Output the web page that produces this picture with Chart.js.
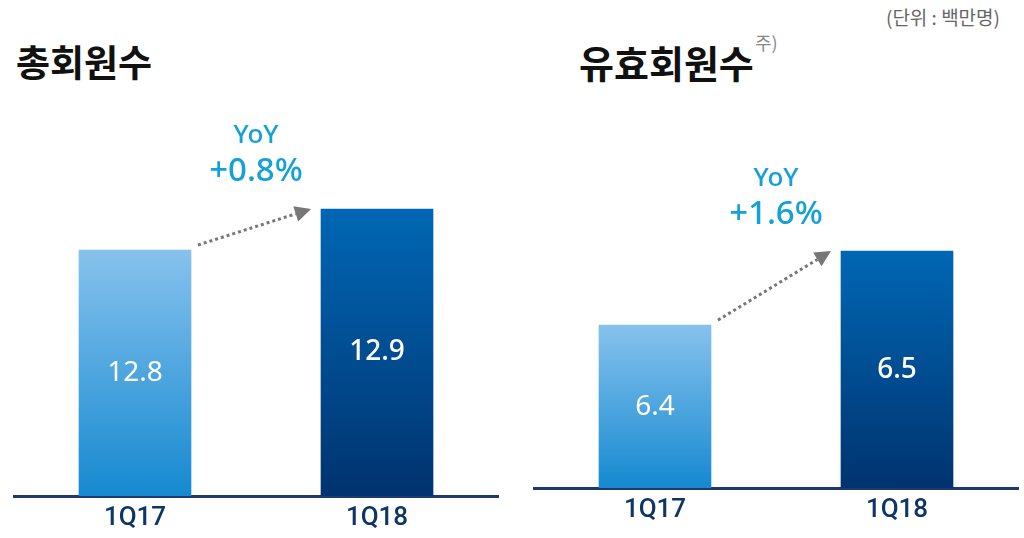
<!DOCTYPE html>
<html>
<head>
<meta charset="utf-8">
<script src="https://cdn.jsdelivr.net/npm/chart.js@4.4.0/dist/chart.umd.min.js"></script>
<style>
  body { margin: 0; background: #fff; width: 1024px; height: 538px; position: relative; overflow: hidden;
         font-family: "Noto Sans CJK KR", "Noto Sans", sans-serif; }
  canvas { position: absolute; top: 0; }
  .title { position: absolute; font-weight: 700; color: #111; line-height: 1; }
  .note { position: absolute; font-size: 19px; color: #666; line-height: 1; }
</style>
</head>
<body>
<div class="note" style="right:24px; top:7px;">(단위 : 백만명)</div>
<div class="title" style="left:16px; top:43px; font-size:37px;">총회원수</div>
<div class="title" style="left:579px; top:43px; font-size:38px;">유효회원수</div>
<div class="note" style="left:755px; top:33px; font-size:18px; color:#888;">주)</div>
<canvas id="totalChart" width="512" height="538" style="left:0"></canvas>
<canvas id="activeChart" width="512" height="538" style="left:512px"></canvas>
<script>
const quarters = ["1Q17", "1Q18"];
const totalMembers = [12.8, 12.9];
const activeMembers = [6.4, 6.5];
const totalYoY = "+0.8%";
const activeYoY = "+1.6%";

const lightStops = ["#86c2ed", "#1689d0"];
const darkStops = ["#0067b4", "#00336f"];

function barGradient(ctx) {
  const chart = ctx.chart;
  const area = chart.chartArea;
  if (!area) return darkStops[0];
  const stops = ctx.dataIndex === 0 ? lightStops : darkStops;
  const top = chart.scales.y.getPixelForValue(ctx.raw);
  const g = chart.ctx.createLinearGradient(0, top, 0, area.bottom);
  g.addColorStop(0, stops[0]);
  g.addColorStop(1, stops[1]);
  return g;
}

const yoyPlugin = {
  id: "yoy",
  afterDatasetsDraw(chart) {
    const ctx = chart.ctx;
    const bars = chart.getDatasetMeta(0).data;
    const bottom = chart.chartArea.bottom;
    ctx.save();
    // value labels inside bars
    ctx.textAlign = "center";
    ctx.textBaseline = "middle";
    chart.data.datasets[0].data.forEach(function (v, i) {
      const b = bars[i];
      ctx.fillStyle = "#ffffff";
      ctx.font = (i === 0 ? "400" : "500") + " 28px 'Noto Sans', sans-serif";
      ctx.fillText(Number(v).toFixed(1), b.x, (b.y + bottom) / 2);
    });
    // dotted arrow
    const a = bars[0], b = bars[1];
    const x1 = a.x + a.width / 2 + 7, y1 = a.y - 5;
    const x2 = b.x - b.width / 2 - 10, y2 = b.y;
    const ang = Math.atan2(y2 - y1, x2 - x1);
    const head = 16;
    const hx = x2 - head * Math.cos(ang), hy = y2 - head * Math.sin(ang);
    ctx.strokeStyle = "#777";
    ctx.fillStyle = "#777";
    ctx.lineWidth = 3;
    ctx.setLineDash([3, 3]);
    ctx.beginPath();
    ctx.moveTo(x1, y1);
    ctx.lineTo(hx, hy);
    ctx.stroke();
    ctx.setLineDash([]);
    ctx.beginPath();
    ctx.moveTo(x2, y2);
    ctx.lineTo(hx - 8 * Math.sin(ang), hy + 8 * Math.cos(ang));
    ctx.lineTo(hx + 8 * Math.sin(ang), hy - 8 * Math.cos(ang));
    ctx.closePath();
    ctx.fill();
    // YoY text
    const cx = (a.x + b.x) / 2;
    ctx.fillStyle = "#14a0db";
    ctx.font = "500 26px 'Noto Sans', sans-serif";
    ctx.fillText("YoY", cx, b.y - 73);
    ctx.font = "500 33px 'Noto Sans', sans-serif";
    ctx.fillText(chart.options.plugins.yoy.text, cx, b.y - 37);
    ctx.restore();
  }
};

function makeChart(id, values, yoyText, yMin, yMax, pad, axisHeight) {
  return new Chart(document.getElementById(id), {
    type: "bar",
    data: {
      labels: quarters,
      datasets: [{
        data: values,
        backgroundColor: barGradient,
        barThickness: 112,
        borderWidth: 0
      }]
    },
    options: {
      responsive: false,
      animation: false,
      layout: { padding: pad },
      plugins: {
        legend: { display: false },
        tooltip: { enabled: false },
        yoy: { text: yoyText }
      },
      scales: {
        y: { display: false, min: yMin, max: yMax },
        x: {
          grid: { display: false, drawTicks: false },
          border: { color: "#1d3a6d", width: 3 },
          ticks: {
            color: "#0d3568",
            padding: 7,
            font: { family: "Roboto, sans-serif", size: 26, weight: "500" }
          },
          afterFit: function (s) { s.height = axisHeight; }
        }
      }
    },
    plugins: [yoyPlugin]
  });
}

makeChart("totalChart", totalMembers, totalYoY, 12.2, 13.2,
  { left: 14, right: 14, top: 86, bottom: 0 }, 42);
makeChart("activeChart", activeMembers, activeYoY, 6.18, 6.8,
  { left: 22, right: 6, top: 29, bottom: 0 }, 50);
</script>
</body>
</html>
